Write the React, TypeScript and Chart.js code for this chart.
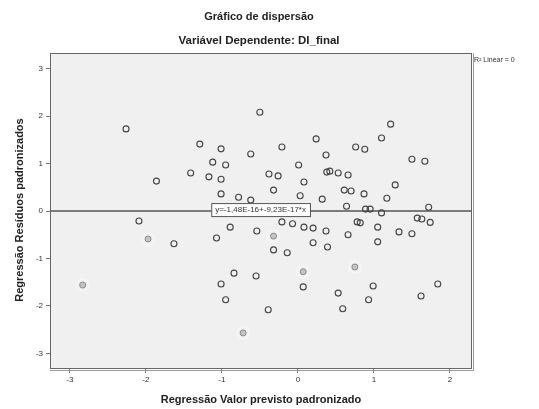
import React, { useEffect, useRef } from "react";
import { Chart, registerables } from "chart.js";

Chart.register(...registerables);

// Standardized predicted values (x) and standardized residuals (y)
const predicted: number[] = [
  -2.26, -1.86, -2.09, -1.63, -1.29, -1.01, -0.62, -0.21, 0.24, 0.37,
  -0.5, -1.12, -0.95, -1.41, -1.17, -1.01, -0.38, -0.26, 0.01, -0.32,
  0.08, -1.01, -0.78, -0.62, 0.03, 0.32, 0.38, 1.22, 1.1, 0.76,
  0.88, 1.5, 1.67, 0.42, 0.53, 0.66, 1.28, 0.61, 0.7, 0.87,
  1.17, 0.64, 0.89, 0.95, 1.1, 1.72, 1.57, 1.63, 1.74, -0.89,
  -1.07, -0.54, -0.21, -0.07, 0.08, 0.2, 0.37, 0.2, 0.39, -0.32,
  -0.14, -0.84, -0.55, -1.01, 0.07, -0.95, -0.39, 0.66, 0.53, 0.59,
  0.99, 0.93, 1.62, 1.84, 1.05, 1.05, 1.33, 1.5, 0.82, 0.78,
];
const residuals: number[] = [
  1.73, 0.63, -0.21, -0.69, 1.41, 1.31, 1.2, 1.35, 1.52, 1.18,
  2.08, 1.03, 0.97, 0.8, 0.72, 0.67, 0.78, 0.74, 0.97, 0.44,
  0.61, 0.36, 0.29, 0.23, 0.32, 0.25, 0.82, 1.83, 1.54, 1.35,
  1.3, 1.09, 1.05, 0.84, 0.8, 0.76, 0.55, 0.44, 0.42, 0.36,
  0.27, 0.1, 0.04, 0.04, -0.04, 0.08, -0.15, -0.17, -0.24, -0.34,
  -0.57, -0.42, -0.23, -0.27, -0.34, -0.36, -0.42, -0.67, -0.76, -0.82,
  -0.88, -1.31, -1.37, -1.54, -1.6, -1.87, -2.08, -0.5, -1.73, -2.06,
  -1.58, -1.87, -1.79, -1.54, -0.34, -0.65, -0.44, -0.48, -0.25, -0.23,
];
// Highlighted (gray) cases
const highlightX: number[] = [-1.97, -2.83, -0.32, 0.07, -0.72, 0.75];
const highlightY: number[] = [-0.59, -1.56, -0.53, -1.28, -2.57, -1.18];

const xTicks: number[] = [-3, -2, -1, 0, 1, 2];
const yTicks: number[] = [-3, -2, -1, 0, 1, 2, 3];
const xRange: number[] = [-3.26, 2.29];
const yRange: number[] = [-3.33, 3.33];

const fitIntercept = -1.48e-16;
const fitSlope = -9.23e-17;
const fitLabel = "y=-1,48E-16+-9,23E-17*x";
const legendLabel = "R² Linear = 0";

const title1 = "Gráfico de dispersão";
const title2 = "Variável Dependente: DI_final";
const xTitle = "Regressão Valor previsto padronizado";
const yTitle = "Regressão Resíduos padronizados";

const FONT = "'Liberation Sans', Arial, sans-serif";

export default function App() {
  const ref = useRef<HTMLCanvasElement | null>(null);

  useEffect(() => {
    if (!ref.current) return;

    const decor = {
      id: "decor",
      beforeDatasetsDraw(chart: any) {
        const { ctx, chartArea: a } = chart;
        ctx.save();
        ctx.fillStyle = "#f0f0f0";
        ctx.fillRect(a.left, a.top, a.right - a.left, a.bottom - a.top);
        ctx.restore();
      },
      afterDraw(chart: any) {
        const { ctx, chartArea: a, scales } = chart;
        ctx.save();
        // frame
        ctx.strokeStyle = "#666";
        ctx.lineWidth = 1;
        ctx.strokeRect(a.left + 0.5, a.top + 0.5, a.right - a.left - 1, a.bottom - a.top - 1);
        ctx.strokeStyle = "#999";
        ctx.beginPath();
        ctx.moveTo(a.left, a.bottom + 1.5);
        ctx.lineTo(a.right + 1.5, a.bottom + 1.5);
        ctx.lineTo(a.right + 1.5, a.top);
        ctx.stroke();

        // titles
        ctx.fillStyle = "#222";
        ctx.textAlign = "center";
        ctx.textBaseline = "middle";
        ctx.font = `bold 11px ${FONT}`;
        const cx = 259;
        ctx.fillText(title1, cx, 17);
        ctx.font = `bold 11.5px ${FONT}`;
        ctx.fillText(title2, cx, 41);
        ctx.font = `bold 11px ${FONT}`;
        ctx.fillText(xTitle, 261, 400);
        ctx.save();
        ctx.translate(20, 210);
        ctx.rotate(-Math.PI / 2);
        ctx.fillText(yTitle, 0, 0);
        ctx.restore();

        // legend
        ctx.font = `7px ${FONT}`;
        ctx.textAlign = "left";
        ctx.fillStyle = "#333";
        ctx.fillText(legendLabel, a.right + 2, a.top + 7);

        // fit equation box
        const bx = scales.x.getPixelForValue(-0.49);
        const by = scales.y.getPixelForValue(0.03);
        ctx.font = `8px ${FONT}`;
        const w = ctx.measureText(fitLabel).width + 8;
        const h = 13;
        ctx.fillStyle = "#ffffff";
        ctx.fillRect(bx - w / 2, by - h / 2, w, h);
        ctx.strokeStyle = "#555";
        ctx.strokeRect(bx - w / 2 + 0.5, by - h / 2 + 0.5, w, h);
        ctx.fillStyle = "#333";
        ctx.textAlign = "center";
        ctx.fillText(fitLabel, bx, by + 0.5);
        ctx.restore();
      },
    };

    const mainPts = predicted.map((x, i) => ({ x, y: residuals[i] }));
    const hiPts = highlightX.map((x, i) => ({ x, y: highlightY[i] }));
    const fitPts = xRange.map((x) => ({ x, y: fitIntercept + fitSlope * x }));

    const chart = new Chart(ref.current, {
      type: "scatter",
      data: {
        datasets: [
          {
            type: "line",
            data: fitPts,
            borderColor: "#555",
            borderWidth: 1.3,
            pointRadius: 0,
            fill: false,
            order: 3,
          } as any,
          {
            data: hiPts,
            pointRadius: 6,
            pointBorderWidth: 2,
            pointBorderColor: "rgba(255,255,255,0.35)",
            pointBackgroundColor: "rgba(0,0,0,0)",
            order: 2,
          },
          {
            data: hiPts,
            pointRadius: 3,
            pointBorderWidth: 1,
            pointBorderColor: "#8c8c8c",
            pointBackgroundColor: "#c4c4c4",
            order: 1,
          },
          {
            data: mainPts,
            pointRadius: 3,
            pointBorderWidth: 1.1,
            pointBorderColor: "#444",
            pointBackgroundColor: "rgba(0,0,0,0)",
            order: 0,
          },
        ],
      },
      options: {
        animation: false,
        responsive: false,
        maintainAspectRatio: false,
        layout: { padding: { left: 0, top: 53, right: 67, bottom: 0 } },
        plugins: { legend: { display: false }, tooltip: { enabled: false }, title: { display: false } },
        scales: {
          x: {
            type: "linear",
            min: xRange[0],
            max: xRange[1],
            afterBuildTicks: (s: any) => {
              s.ticks = xTicks.map((v) => ({ value: v }));
            },
            afterFit: (s: any) => {
              s.height = 40;
            },
            grid: { drawOnChartArea: false, drawTicks: true, tickLength: 4, color: "#777" },
            border: { display: false },
            ticks: { color: "#333", font: { size: 8, family: FONT }, padding: 2, callback: (v: any) => String(v) },
          },
          y: {
            type: "linear",
            min: yRange[0],
            max: yRange[1],
            afterBuildTicks: (s: any) => {
              s.ticks = yTicks.map((v) => ({ value: v }));
            },
            afterFit: (s: any) => {
              s.width = 50;
            },
            grid: { drawOnChartArea: false, drawTicks: true, tickLength: 4, color: "#777" },
            border: { display: false },
            ticks: { color: "#333", font: { size: 8, family: FONT }, padding: 3, callback: (v: any) => String(v) },
          },
        },
      },
      plugins: [decor],
    });
    return () => chart.destroy();
  }, []);

  return (
    <div style={{ position: "fixed", left: 0, top: 0, width: 539, height: 409, background: "#fff" }}>
      <canvas ref={ref} width={539} height={409} style={{ width: 539, height: 409, display: "block" }} />
    </div>
  );
}
